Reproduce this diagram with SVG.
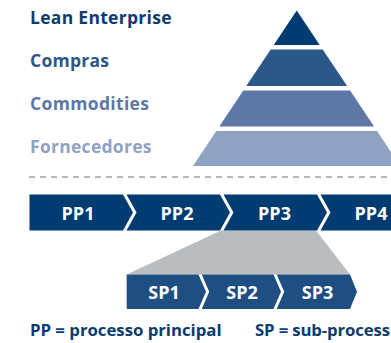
<svg xmlns="http://www.w3.org/2000/svg" width="391" height="343" viewBox="0 0 391 343">
<style>
text{font-family:"Open Sans","Liberation Sans",sans-serif;font-weight:bold}
.lbl{font-size:17.5px}
.box{font-size:18px;fill:#ffffff;text-anchor:middle}
.pp{fill:#003b71}
.sp{fill:#1f4e82}
.leg{font-size:16.8px;fill:#0d3b6e}
</style>
<rect width="391" height="343" fill="#ffffff"/>
<g id="pyramid">
<g id="tier-lean"><polygon points="296.7,10.5 319.7,45 273.7,45" fill="#003b71"/></g>
<g id="tier-compras"><polygon points="270.7,49.5 322.7,49.5 347.1,86 246.3,86" fill="#2b5789"/></g>
<g id="tier-commodities"><polygon points="243.3,90.5 350.1,90.5 374.1,126.5 219.3,126.5" fill="#5d78a6"/></g>
<g id="tier-fornecedores"><polygon points="216.3,131 377.1,131 400.4,166 193,166" fill="#8fa2c4"/></g>
</g>
<g id="labels">
<text class="lbl" x="30" y="23.5" fill="#0d3b6e" textLength="141.5" lengthAdjust="spacing">Lean Enterprise</text>
<text class="lbl" x="30" y="66.5" fill="#2b5789" textLength="79" lengthAdjust="spacing">Compras</text>
<text class="lbl" x="30" y="109.5" fill="#5d78a6" textLength="119" lengthAdjust="spacing">Commodities</text>
<text class="lbl" x="30" y="152.5" fill="#8fa2c4" textLength="121.5" lengthAdjust="spacing">Fornecedores</text>
</g>
<line x1="29" y1="177" x2="391" y2="177" stroke="#a0a0a0" stroke-width="1.3" stroke-dasharray="6,5"/>
<g id="connectors">
<polygon id="zoom-link" points="221,230.5 316,230.5 350,274.5 126.7,274.5" fill="#b9bdc0"/>
</g>
<g id="pp1"><path class="pp" d="M29.5,194.5 H123 L133,212.5 L123,230.5 H29.5 Z"/><text class="box" x="78" y="220">PP1</text></g>
<g id="pp2"><path class="pp" d="M126.5,194.5 H220 L230,212.5 L220,230.5 H126.5 L136.5,212.5 Z"/><text class="box" x="177" y="220">PP2</text></g>
<g id="pp3"><path class="pp" d="M223.5,194.5 H317 L327,212.5 L317,230.5 H223.5 L233.5,212.5 Z"/><text class="box" x="274.5" y="220">PP3</text></g>
<g id="pp4"><path class="pp" d="M320.5,194.5 H400 V230.5 H320.5 L330.5,212.5 Z"/><text class="box" x="371" y="220">PP4</text></g>
<g id="sp1"><path class="sp" d="M126.7,274.5 H198.5 L206,291.75 L198.5,309 H126.7 Z"/><text class="box" x="164" y="299">SP1</text></g>
<g id="sp2"><path class="sp" d="M201.7,274.5 H273.5 L281,291.75 L273.5,309 H201.7 L209.2,291.75 Z"/><text class="box" x="242" y="299">SP2</text></g>
<g id="sp3"><path class="sp" d="M276.7,274.5 H350 L357,291.75 L350,309 H276.7 L284.2,291.75 Z"/><text class="box" x="317.5" y="299">SP3</text></g>
<g id="legend">
<text class="leg" x="30" y="336" textLength="191.5" lengthAdjust="spacing">PP = processo principal</text>
<text class="leg" x="255" y="336" textLength="135" lengthAdjust="spacing">SP = sub-process</text>
</g>
</svg>
